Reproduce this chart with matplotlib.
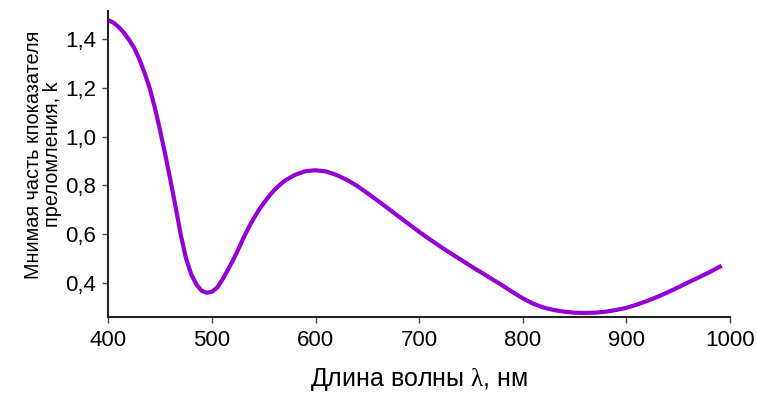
import matplotlib
matplotlib.use("Agg")
import matplotlib.pyplot as plt
from matplotlib.ticker import FuncFormatter

# Wavelength (nm) and imaginary part of the refractive index k
wavelength = [400, 405, 410, 415, 420, 425, 430, 435, 440, 445, 450, 455, 460,
              465, 470, 475, 480, 485, 490, 495, 500, 505, 510, 515, 520, 525,
              530, 535, 540, 545, 550, 555, 560, 565, 570, 580, 590, 600, 610,
              620, 630, 640, 650, 660, 670, 680, 690, 700, 710, 720, 730, 740,
              750, 760, 770, 780, 790, 800, 810, 820, 830, 840, 850, 860, 870,
              880, 890, 900, 910, 920, 930, 940, 950, 960, 970, 980, 992]
k_values = [1.478, 1.468, 1.45, 1.427, 1.398, 1.364, 1.318, 1.262, 1.198,
            1.117, 1.025, 0.925, 0.82, 0.71, 0.595, 0.5, 0.435, 0.393, 0.367,
            0.359, 0.363, 0.38, 0.412, 0.45, 0.49, 0.533, 0.58, 0.623, 0.662,
            0.697, 0.727, 0.755, 0.78, 0.8, 0.818, 0.843, 0.858, 0.862, 0.857,
            0.843, 0.823, 0.798, 0.768, 0.737, 0.705, 0.673, 0.641, 0.609,
            0.579, 0.55, 0.522, 0.495, 0.468, 0.442, 0.416, 0.39, 0.362,
            0.336, 0.314, 0.298, 0.288, 0.281, 0.277, 0.276, 0.277, 0.281,
            0.288, 0.297, 0.31, 0.325, 0.342, 0.361, 0.381, 0.402, 0.422,
            0.443, 0.47]

x_ticks = [400, 500, 600, 700, 800, 900, 1000]
y_ticks = [0.4, 0.6, 0.8, 1.0, 1.2, 1.4]

plt.rcParams['font.family'] = ['Liberation Sans', 'DejaVu Sans']
plt.rcParams['mathtext.fontset'] = 'custom'
plt.rcParams['mathtext.rm'] = 'Liberation Serif'

fig = plt.figure(figsize=(7.57, 3.96), dpi=100)
ax = fig.add_axes([0.1431, 0.1987, 0.8212, 0.7735])

ax.plot(wavelength, k_values, color='#9400D3', linewidth=3,
        solid_capstyle='butt', solid_joinstyle='round')

ax.set_xlim(400, 1000)
ax.set_ylim(0.258, 1.516)
ax.set_xticks(x_ticks)
ax.set_yticks(y_ticks)
ax.yaxis.set_major_formatter(FuncFormatter(lambda v, p: f"{v:.1f}".replace('.', ',')))

for side in ('top', 'right'):
    ax.spines[side].set_visible(False)
for side in ('left', 'bottom'):
    ax.spines[side].set_linewidth(1.5)
    ax.spines[side].set_color('#222222')

ax.tick_params(axis='both', direction='out', length=4, width=1,
               color='#444444', labelsize=16, pad=5)

ax.set_xlabel(r'Длина волны $\mathrm{\lambda}$, нм', fontsize=18, labelpad=11)
ax.set_ylabel('Мнимая часть кпоказателя\nпреломления, k', fontsize=14.3,
              linespacing=1.0)
ax.yaxis.set_label_coords(-0.075, 0.531)

fig.savefig('out.png', dpi=100)
